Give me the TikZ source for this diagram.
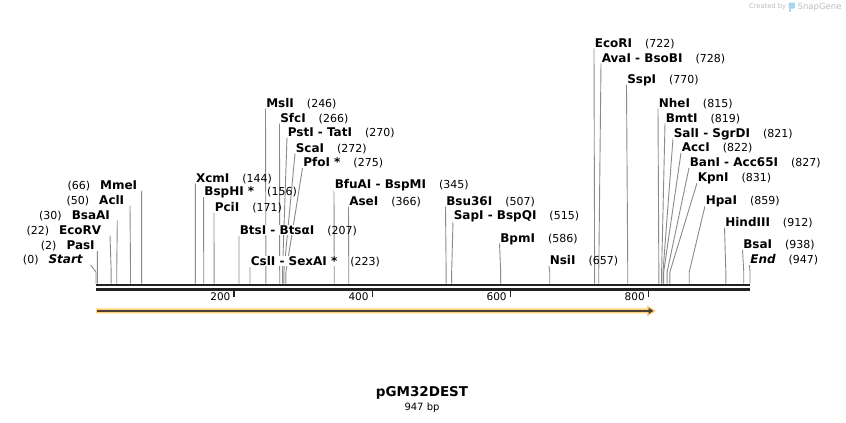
\documentclass[tikz,border=0pt]{standalone}
\usepackage{fontspec}
\setmainfont{DejaVu Sans}
\usetikzlibrary{positioning}
\usetikzlibrary{arrows.meta}
\definecolor{sitegray}{HTML}{8A8A8A}
\definecolor{bbdark}{HTML}{222222}
\definecolor{featorange}{HTML}{FFD27A}
\definecolor{featdark}{HTML}{4A4038}
\definecolor{wmgray}{HTML}{BDBDBD}
\definecolor{wmblue}{HTML}{A9D6EE}
\tikzstyle{enzname}=[font=\fontsize{12}{14}\selectfont\bfseries,inner sep=0.6pt,fill=white]
\tikzstyle{enznum}=[font=\fontsize{11}{13}\selectfont,inner sep=0pt]
\tikzstyle{siteline}=[draw,sitegray,line width=0.9pt]
\tikzstyle{backbone}=[draw,bbdark,line width=2.4pt]
\tikzstyle{tickmark}=[draw,bbdark,line width=1.4pt]
\tikzstyle{ticklabel}=[font=\fontsize{10.5}{12}\selectfont,inner sep=0pt]

% name/number/site/top x/text centre y
\def\rightsites{{XcmI/144/144/195.3/177.5}, {BspHI */156/156/203.6/191}, {PciI/171/171/214/206.5},
  {BtsI - BtsαI/207/207/239/230}, {CslI - SexAI */223/223/250/261}, {MslI/246/246/265.5/102.5},
  {SfcI/266/266/279.5/117.5}, {PstI - TatI/270/270/287/131.5}, {ScaI/272/272/295/147.5},
  {PfoI */275/275/302.5/162}, {BfuAI - BspMI/345/345/334/184}, {AseI/366/366/348.5/200.5},
  {Bsu36I/507/507/445.5/200.5}, {SapI - BspQI/515/515/453/215}, {BpmI/586/586/499.5/237.5},
  {NsiI/657/657/549/260}, {EcoRI/722/722/594/42.5}, {AvaI - BsoBI/728/728/601/57.5},
  {SspI/770/770/626.5/79}, {NheI/815/815/658/102.5}, {BmtI/819/819/665/117.5},
  {SalI - SgrDI/821/821/673/132.5}, {AccI/822/822/681/147}, {BanI - Acc65I/827/827/689/162},
  {KpnI/831/831/697/177}, {HpaI/859/859/705/200}, {HindIII/912/912/724.5/221.5},
  {BsaI/938/938/742.5/244}, {{\itshape End}/947/947/749.5/259}}
% name/number/site/top x/text right x/text centre y
\def\leftsites{{{\itshape Start}/0/0/90.7/83.5/259}, {PasI/2/2/97.3/95.5/245},
  {EcoRV/22/22/110/102/229.5}, {BsaAI/30/30/117.3/110.7/214.5},
  {AclI/50/50/130/125/199.5}, {MmeI/66/66/141.7/138/184.5}}

\begin{document}
\begin{tikzpicture}[x=1pt,y=-1pt]
\useasboundingbox (0,0) rectangle (846,423);

    \foreach \nm/\num/\site/\tx/\cy [count=\i] in \rightsites {
        \coordinate (rt\i) at (\tx,\cy+6);
        \coordinate (rk\i) at ({96+0.6906*\site},272);
        \coordinate (rs\i) at ({96+0.6906*\site},283.5);
        \path[siteline] (rt\i) -- (rk\i) -- (rs\i);
    }
    \foreach \nm/\num/\site/\tx/\rx/\cy [count=\i] in \leftsites {
        \coordinate (lt\i) at (\tx,\cy+6);
        \coordinate (lk\i) at ({96+0.6906*\site},272);
        \coordinate (ls\i) at ({96+0.6906*\site},283.5);
        \path[siteline] (lt\i) -- (lk\i) -- (ls\i);
    }

    \foreach \nm/\num/\site/\tx/\cy [count=\i] in \rightsites {
        \node[enzname,anchor=base west] (rn\i) at (\tx,\cy+4.5) {\nm};
        \node[enznum,right=12pt of rn\i.base east,anchor=base west] (rm\i) {(\num)};
    }
    \foreach \nm/\num/\site/\tx/\rx/\cy [count=\i] in \leftsites {
        \node[enzname,anchor=base east] (ln\i) at (\rx,\cy+4.5) {\nm};
        \node[enznum,left=9pt of ln\i.base west,anchor=base east] (lm\i) {(\num)};
    }

    % backbone and scale
    \coordinate (bbtl) at (96,285.2);
    \coordinate (bbtr) at (750,285.2);
    \coordinate (bbbl) at (96,289.4);
    \coordinate (bbbr) at (750,289.4);
    \path[backbone] (bbtl) -- (bbtr);
    \path[backbone] (bbbl) -- (bbbr);
    \foreach \t in {200,400,600,800} {
        \coordinate (tk\t) at ({96+0.6906*\t},291);
        \path[tickmark] (tk\t) -- ++(0,6);
        \node[ticklabel,anchor=east] (tl\t) at ([xshift=-3.5pt,yshift=-6pt]tk\t) {\t};
    }

    % feature
    \fill[featorange] (96,308.4) -- (647,308.4) -- (647,305.2) -- (656,310.9)
        -- (647,316.6) -- (647,313.4) -- (96,313.4) -- cycle;
    \coordinate (fs) at (97,310.9);
    \coordinate (fe) at (653.5,310.9);
    \draw[featdark,line width=1.8pt,-{Triangle[length=5pt,width=6pt]}] (fs) -- (fe);

    \node[font=\fontsize{13.5}{16}\selectfont\bfseries,anchor=base] (title) at (422,396.7) {pGM32DEST};
    \node[font=\fontsize{10}{12}\selectfont,anchor=base] (bplen) at (422,410.5) {947 bp};

    \node[font=\fontsize{6.7}{8}\selectfont,text=wmgray,anchor=west,inner sep=0pt] (wm1) at (749,7) {Created by};
    \fill[wmblue,rounded corners=1.2pt] (788.5,2.5) rectangle (795,8.5);
    \fill[wmblue] (788.5,6) rectangle (791.2,11.5);
    \node[font=\fontsize{8.5}{10}\selectfont,text=wmgray,anchor=west,inner sep=0pt] (wm2) at (797.5,7) {SnapGene};
\end{tikzpicture}
\end{document}
